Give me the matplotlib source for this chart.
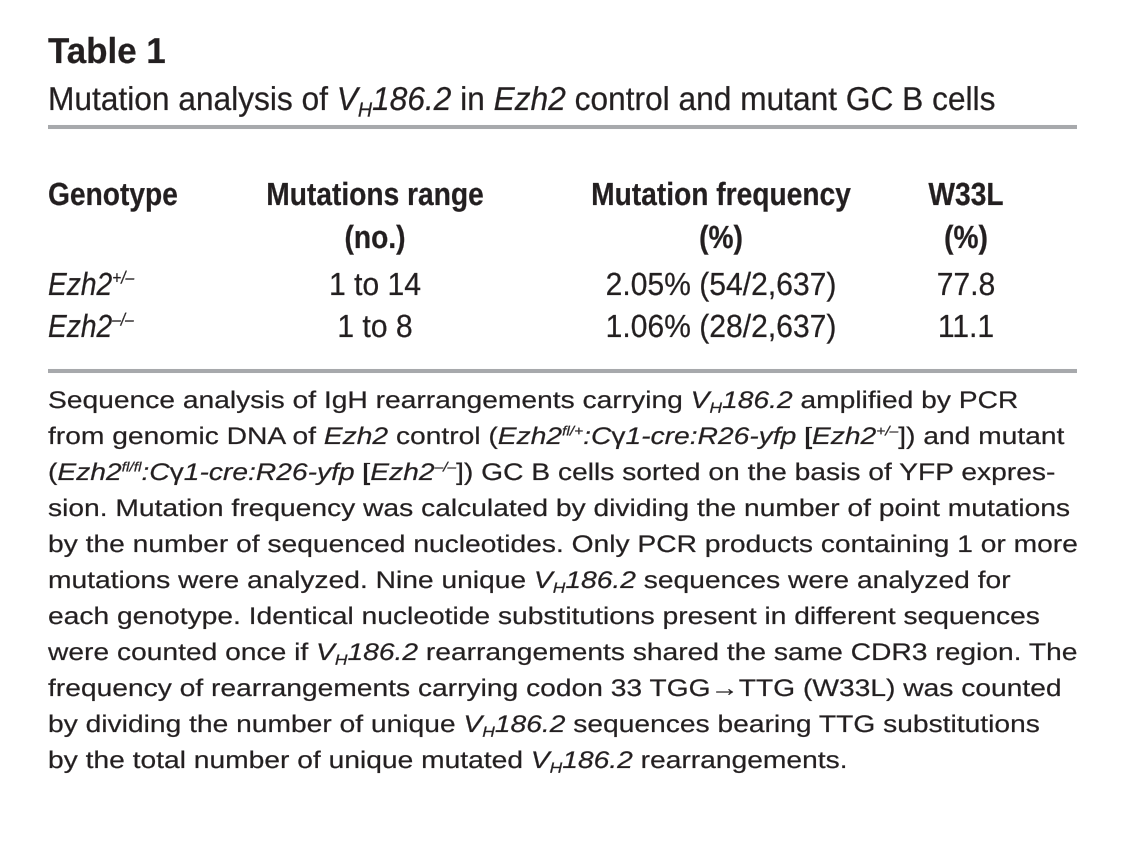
import matplotlib
matplotlib.use("Agg")
import matplotlib.pyplot as plt
from matplotlib.transforms import IdentityTransform, Affine2D
from matplotlib.textpath import TextPath, text_to_path
from matplotlib.patches import PathPatch
from matplotlib.font_manager import FontProperties

# table data
title = "Table 1"
subtitle = [("Mutation analysis of ", "r"), ("V", "i"), ("H", "sub"), ("186.2", "i"),
            (" in ", "r"), ("Ezh2", "i"), (" control and mutant GC B cells", "r")]
headers = [["Genotype", ""], ["Mutations range", "(no.)"],
           ["Mutation frequency", "(%)"], ["W33L", "(%)"]]
genotypes = [[("Ezh2", "i"), ("+/\u2013", "sup")], [("Ezh2", "i"), ("\u2013/\u2013", "sup")]]
mut_range = ["1 to 14", "1 to 8"]
mut_freq = ["2.05% (54/2,637)", "1.06% (28/2,637)"]
w33l = ["77.8", "11.1"]

footnote = [
    [("Sequence analysis of IgH rearrangements carrying ", "r"), ("V", "i"), ("H", "sub"),
     ("186.2", "i"), (" amplified by PCR", "r")],
    [("from genomic DNA of ", "r"), ("Ezh2", "i"), (" control (", "r"), ("Ezh2", "i"),
     ("fl/+", "sup"), (":C", "i"), ("\u03b3", "r"), ("1-cre:R26-yfp", "i"), (" [", "r"),
     ("Ezh2", "i"), ("+/\u2013", "sup"), ("]) and mutant", "r")],
    [("(", "r"), ("Ezh2", "i"), ("fl/fl", "sup"), (":C", "i"), ("\u03b3", "r"),
     ("1-cre:R26-yfp", "i"), (" [", "r"), ("Ezh2", "i"), ("\u2013/\u2013", "sup"),
     ("]) GC B cells sorted on the basis of YFP expres-", "r")],
    [("sion. Mutation frequency was calculated by dividing the number of point mutations", "r")],
    [("by the number of sequenced nucleotides. Only PCR products containing 1 or more", "r")],
    [("mutations were analyzed. Nine unique ", "r"), ("V", "i"), ("H", "sub"), ("186.2", "i"),
     (" sequences were analyzed for", "r")],
    [("each genotype. Identical nucleotide substitutions present in different sequences", "r")],
    [("were counted once if ", "r"), ("V", "i"), ("H", "sub"), ("186.2", "i"),
     (" rearrangements shared the same CDR3 region. The", "r")],
    [("frequency of rearrangements carrying codon 33 TGG\u2192TTG (W33L) was counted", "r")],
    [("by dividing the number of unique ", "r"), ("V", "i"), ("H", "sub"), ("186.2", "i"),
     (" sequences bearing TTG substitutions", "r")],
    [("by the total number of unique mutated ", "r"), ("V", "i"), ("H", "sub"), ("186.2", "i"),
     (" rearrangements.", "r")],
]

W, H = 1124, 864
fig = plt.figure(figsize=(W / 100, H / 100), dpi=100)
fig.patch.set_facecolor("white")
ink = "#231f20"
FAM = ["Liberation Sans", "DejaVu Sans"]


def seg_style(style, em):
    # returns font props, size in px, baseline shift in px
    if style == "r":
        return dict(style="normal", weight="normal"), em, 0
    if style == "i":
        return dict(style="italic", weight="normal"), em, 0
    if style == "b":
        return dict(style="normal", weight="bold"), em, 0
    if style == "sub":
        return dict(style="italic", weight="normal"), em * 0.62, -0.2 * em
    if style == "sup":
        return dict(style="italic", weight="normal"), em * 0.55, 0.36 * em


def rich(x, y, parts, em, sx=1.0, ha="left"):
    # x, y in pixels from top-left; y is the baseline; sx squeezes/stretches horizontally
    segs = []
    adv = 0
    for s, style in parts:
        kw, size, dy = seg_style(style, em)
        fp = FontProperties(family=FAM, size=size, **kw)
        w = text_to_path.get_text_width_height_descent(s, fp, ismath=False)[0]
        path = TextPath((0, 0), s, prop=fp)
        segs.append((path, adv, dy))
        adv += w
    width = adv * sx
    x0 = x - width / 2 if ha == "center" else x
    for path, a, dy in segs:
        tr = Affine2D().scale(sx, 1).translate(x0 + a * sx, H - y + dy)
        fig.add_artist(PathPatch(tr.transform_path(path), transform=IdentityTransform(),
                                 facecolor=ink, edgecolor=ink, lw=0.15))
    return width


def hline(y):
    fig.add_artist(plt.Line2D([48, 1077], [H - y, H - y], transform=IdentityTransform(),
                              color="#a7a9ac", lw=2.9, solid_capstyle="butt"))


# title block
rich(48, 63, [(title, "b")], 36, 0.97)
rich(48, 110, subtitle, 33, 0.96)
hline(127)

# header
col_x = [48, 375, 721, 966]
for j, (h1, h2) in enumerate(headers):
    ha = "left" if j == 0 else "center"
    rich(col_x[j], 205, [(h1, "b")], 32, 0.88, ha=ha)
    if h2:
        rich(col_x[j], 248, [(h2, "b")], 32, 0.88, ha=ha)

# body rows
row_y = [295, 337]
for i in range(2):
    rich(col_x[0], row_y[i], genotypes[i], 32, 0.88)
    rich(col_x[1], row_y[i], [(mut_range[i], "r")], 32, 0.94, ha="center")
    rich(col_x[2], row_y[i], [(mut_freq[i], "r")], 32, 0.94, ha="center")
    rich(col_x[3], row_y[i], [(w33l[i], "r")], 32, 0.94, ha="center")

hline(371)

# footnote
for k, line in enumerate(footnote):
    rich(48, 408 + 36 * k, line, 24, 1.175)

fig.savefig("out.png", dpi=100, facecolor="white")
